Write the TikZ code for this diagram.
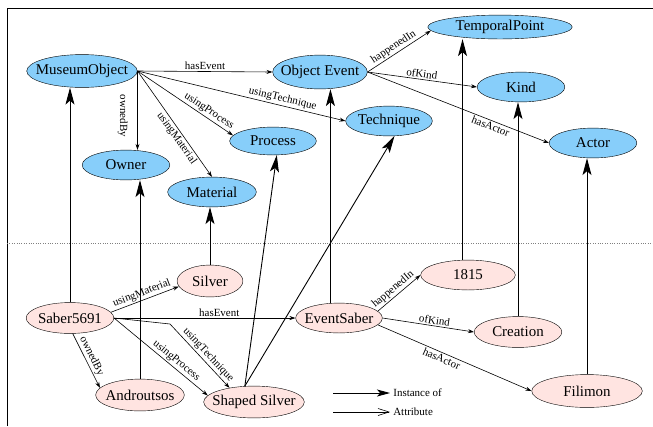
\documentclass[tikz,border=0pt]{standalone}
\usepackage{fontspec}
\setmainfont{Liberation Serif}
\usetikzlibrary{shapes.geometric,arrows.meta}

\definecolor{clsblue}{RGB}{135,206,250}
\definecolor{inspink}{RGB}{255,228,225}

\tikzset{
	cls/.style={ellipse, draw, thin, fill=clsblue, inner sep=0pt,
		minimum width=88, minimum height=30,
		font=\fontsize{15}{18}\selectfont,
		execute at begin node={\hbox to 0pt\bgroup\hss},
		execute at end node={\hss\egroup}},
	ins/.style={cls, fill=inspink},
	attr/.style={draw, line width=0.6pt, -{Stealth[length=6pt,width=4pt]}},
	inst/.style={draw, line width=0.9pt, -{Stealth[length=17pt,width=9pt,inset=4pt]}},
	lbl/.style={font=\fontsize{11}{13}\selectfont, inner sep=1.5pt, sloped}
}

\begin{document}
\begin{tikzpicture}[x=1bp, y=-1bp]
	\useasboundingbox (0,0) rectangle (653,426);
	% frame and separator
	\draw[line width=0.8pt] (7,426) -- (7,8) -- (653,8);
	\draw[gray, dotted] (7,243) -- (653,243);

	% classes
	\node[cls, minimum width=111, minimum height=33] at (82,71) (mo) {MuseumObject};
	\node[cls, minimum width=95, minimum height=34] at (320,72) (oe) {Object Event};
	\node[cls, minimum width=145, minimum height=24] at (500,27) (tp) {TemporalPoint};
	\node[cls] at (521,87) (kind) {Kind};
	\node[cls, minimum width=87] at (389,121) (tech) {Technique};
	\node[cls] at (593,143) (act) {Actor};
	\node[cls, minimum width=87, minimum height=28] at (273,141) (pro) {Process};
	\node[cls] at (126,165) (own) {Owner};
	\node[cls, minimum width=89] at (212,192) (mat) {Material};

	% instances
	\node[ins, minimum width=66, minimum height=32] at (210,281) (sil) {Silver};
	\node[ins, minimum height=31] at (70,318) (sab) {Saber5691};
	\node[ins, minimum width=89, minimum height=32] at (140,395) (and) {Androutsos};
	\node[ins, minimum width=101, minimum height=32] at (254,402) (ss) {Shaped Silver};
	\node[ins, minimum width=87] at (339,318) (es) {EventSaber};
	\node[ins, minimum width=95] at (468,275) (y1815) {1815};
	\node[ins, minimum height=31] at (518,332) (cre) {Creation};
	\node[ins, minimum width=111, minimum height=33] at (587,391) (fil) {Filimon};

	% attributes between classes
	\draw[attr] (mo.east) -- node[lbl, above, pos=0.5] {hasEvent} (oe.west);
	\draw[attr] (mo.east) -- node[lbl, below=8pt, pos=0.57] {ownedBy} (mo.east |- own.north);
	\draw[attr] (mo.east) -- node[lbl, below, pos=0.6] {usingMaterial} (mat.north);
	\draw[attr] (mo.east) -- node[lbl, above, pos=0.71] {usingProcess} (pro.172);
	\draw[attr] (mo.east) -- node[lbl, above, pos=0.69] {usingTechnique} (tech.west);
	\draw[attr] (oe.east) -- node[lbl, above, pos=0.47] {happenedIn} (tp.183);
	\draw[attr] (oe.east) -- node[lbl, above, pos=0.49] {ofKind} (kind.west);
	\draw[attr] (oe.east) -- node[lbl, below, pos=0.69] {hasActor} (act.west);

	% attributes between instances
	\coordinate (bend) at (170,324);
	\draw[attr] (sab.8) -- node[lbl, above, pos=0.49] {usingMaterial} (sil.190);
	\draw[attr] (sab.east) -- node[lbl, above, pos=0.58] {hasEvent} (es.west);
	\draw[attr] (sab.-80) -- node[lbl, above, pos=0.47] {ownedBy} (and.170);
	\draw[attr] (sab.east) -- node[lbl, above, pos=0.62] {usingProcess} (ss.172);
	\draw[attr] (sab.east) -- (bend) -- node[lbl, above, pos=0.56] {usingTechnique} (ss.150);
	\draw[attr] (es.10) -- node[lbl, above, pos=0.46] {happenedIn} (y1815.west);
	\draw[attr] (es.east) -- node[lbl, above, pos=0.56] {ofKind} (cre.west);
	\draw[attr] (es.-10) -- node[lbl, below, pos=0.43] {hasActor} (fil.west);

	% instance of
	\foreach \a/\b in {sab/mo, and/own, sil/mat, cre/kind, fil/act}
		\draw[inst] (\a.north) -- (\a.north |- \b.south);
	\draw[inst] (es.120) -- (es.120 |- oe.south);
	\draw[inst] (y1815.110) -- (y1815.110 |- tp.south);
	\draw[inst] (ss.120) -- (pro.-75);
	\draw[inst] (ss.120) -- (tech.-70);

	% legend
	\coordinate (l1) at (333,393);
	\coordinate (l2) at (333,412);
	\draw[line width=0.9pt, -{Stealth[length=13pt,width=7pt,inset=3pt]}] (l1) -- ++(57,0)
		node[right, font=\fontsize{11}{13}\selectfont, inner sep=3pt] (li) {Instance of};
	\draw[line width=0.6pt, -{Straight Barb[length=11pt,width=7pt]}] (l2) -- ++(57,0)
		node[right, font=\fontsize{11}{13}\selectfont, inner sep=3pt] (la) {Attribute};
\end{tikzpicture}
\end{document}
